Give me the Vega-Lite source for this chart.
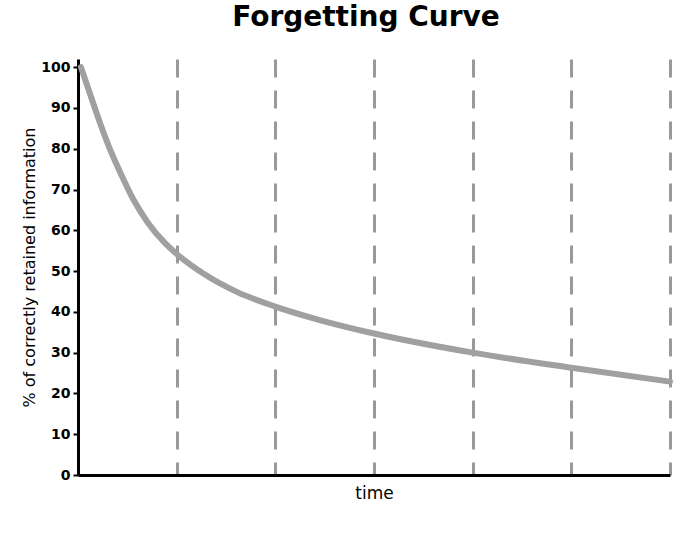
{
  "$schema": "https://vega.github.io/schema/vega-lite/v6.json",
  "autosize": {"type": "none"},
  "padding": {"left": 78, "top": 59, "right": 30, "bottom": 58},
  "width": 592,
  "height": 416,
  "background": "white",
  "title": {
    "text": "Forgetting Curve",
    "font": "DejaVu Sans",
    "fontSize": 28,
    "fontWeight": "bold",
    "color": "black",
    "anchor": "middle",
    "dx": -8,
    "offset": 23
  },
  "data": {"values": [
    {"t": 0.03, "r": 100},
    {"t": 0.12, "r": 93.6},
    {"t": 0.21, "r": 87.2},
    {"t": 0.31, "r": 80.7},
    {"t": 0.43, "r": 74.1},
    {"t": 0.56, "r": 67.6},
    {"t": 0.71, "r": 61.8},
    {"t": 0.88, "r": 56.9},
    {"t": 1.0, "r": 54.2},
    {"t": 1.27, "r": 49.4},
    {"t": 1.61, "r": 44.9},
    {"t": 2.0, "r": 41.3},
    {"t": 2.45, "r": 38.0},
    {"t": 3.0, "r": 34.7},
    {"t": 4.0, "r": 30.0},
    {"t": 5.0, "r": 26.3},
    {"t": 6.0, "r": 22.9}
  ]},
  "mark": {"type": "line", "color": "#a0a0a0", "strokeWidth": 6, "interpolate": "monotone", "strokeCap": "round"},
  "encoding": {
    "x": {
      "field": "t",
      "type": "quantitative",
      "scale": {"domain": [0, 6], "nice": false, "zero": true},
      "axis": {
        "title": "time",
        "titleFont": "DejaVu Sans",
        "titleFontSize": 17,
        "titleFontWeight": "normal",
        "titleColor": "black",
        "titlePadding": 10,
        "values": [1, 2, 3, 4, 5, 6],
        "labels": false,
        "ticks": false,
        "grid": true,
        "gridColor": "#999999",
        "gridWidth": 3,
        "gridDash": [18, 13],
        "gridOpacity": 1,
        "domainColor": "black",
        "domainWidth": 3
      }
    },
    "y": {
      "field": "r",
      "type": "quantitative",
      "scale": {"domain": [0, 102], "nice": false},
      "axis": {
        "title": "% of correctly retained information",
        "titleFont": "DejaVu Sans",
        "titleFontSize": 16,
        "titleFontWeight": "normal",
        "titleColor": "black",
        "titlePadding": 3,
        "values": [0, 10, 20, 30, 40, 50, 60, 70, 80, 90, 100],
        "labelFont": "DejaVu Sans",
        "labelFontSize": 14,
        "labelFontWeight": "bold",
        "labelColor": "black",
        "labelPadding": 3,
        "tickColor": "black",
        "tickSize": 5,
        "tickWidth": 2,
        "grid": false,
        "domainColor": "black",
        "domainWidth": 3
      }
    }
  },
  "config": {"view": {"stroke": null}}
}
